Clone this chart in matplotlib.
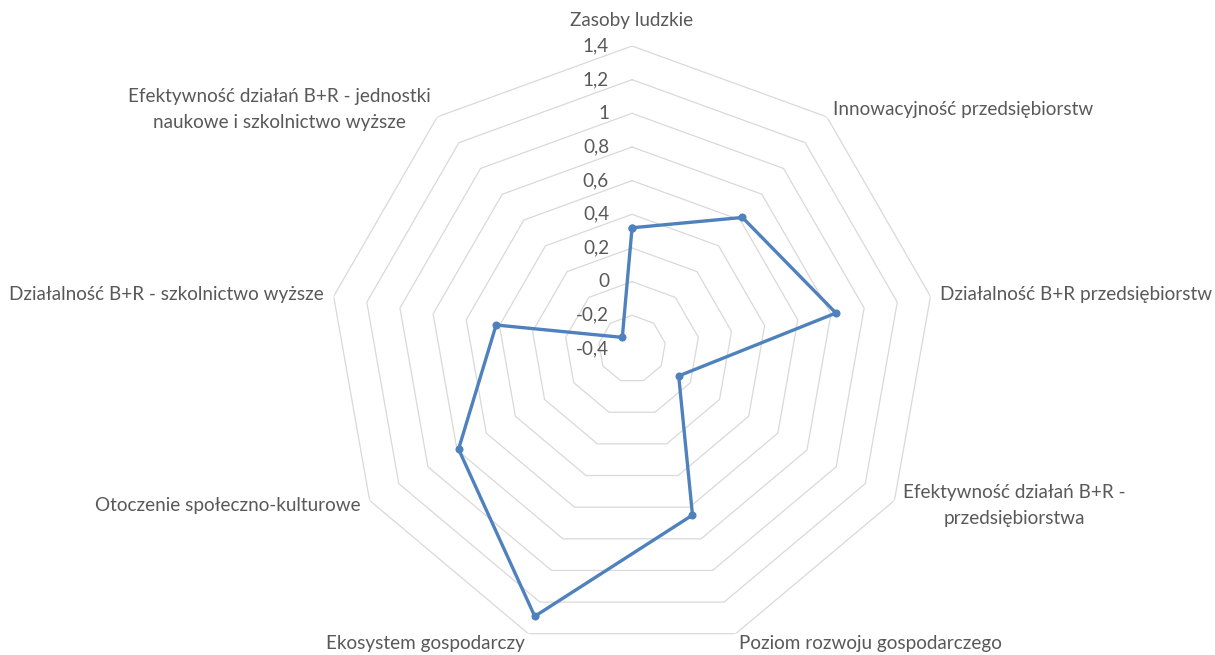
import numpy as np
import matplotlib
matplotlib.use("Agg")
import matplotlib.pyplot as plt
from matplotlib.transforms import offset_copy

# ---- data ----
categories = [
    "Zasoby ludzkie",
    "Innowacyjność przedsiębiorstw",
    "Działalność B+R przedsiębiorstw",
    "Efektywność działań B+R -\nprzedsiębiorstwa",
    "Poziom rozwoju gospodarczego",
    "Ekosystem gospodarczy",
    "Otoczenie społeczno-kulturowe",
    "Działalność B+R - szkolnictwo wyższe",
    "Efektywność działań B+R - jednostki\nnaukowe i szkolnictwo wyższe",
]
values = [0.32, 0.62, 0.83, -0.08, 0.65, 1.29, 0.79, 0.42, -0.31]
tick_values = [-0.4, -0.2, 0, 0.2, 0.4, 0.6, 0.8, 1.0, 1.2, 1.4]
tick_labels = ["-0,4", "-0,2", "0", "0,2", "0,4", "0,6", "0,8", "1", "1,2", "1,4"]

plt.rcParams['font.family'] = ['Lato', 'DejaVu Sans']
text_color = "#595959"
grid_color = "#d9d9d9"
line_color = "#4f81bd"
fs = 13.6

fig = plt.figure(figsize=(12.15, 6.55), dpi=100)
ax = fig.add_axes([0.2708, 0.0046, 0.4988, 0.9252], projection='polar')
ax.set_theta_offset(np.pi / 2)
ax.set_theta_direction(-1)
ax.set_ylim(tick_values[0], tick_values[-1])
ax.grid(False)
ax.set_xticks([])
ax.set_yticks([])
ax.spines['polar'].set_visible(False)
ax.patch.set_visible(False)

n = len(categories)
theta = np.arange(n) * 2 * np.pi / n
theta_closed = np.append(theta, theta[0])

# polygon grid rings
for lvl in tick_values[1:]:
    ax.plot(theta_closed, [lvl] * (n + 1), color=grid_color, lw=0.9, zorder=1)

# data series
vals_closed = values + values[:1]
ax.plot(theta_closed, vals_closed, color=line_color, lw=2.4, marker='o',
        markersize=4.8, zorder=3, solid_joinstyle='round')

# value tick labels
tr = offset_copy(ax.transData, fig=fig, x=-23, y=0, units='dots')
for v, lab in zip(tick_values, tick_labels):
    ax.text(0, v, lab, transform=tr, ha='right', va='center',
            fontsize=fs, color=text_color)

# category labels
for th, lab in zip(theta, categories):
    s = np.sin(th)
    r_lab = 1.46
    if abs(s) < 1e-6:
        ha, va = 'center', 'bottom'
        r_lab = 1.5
    elif s > 0:
        ha, va = 'left', 'center'
    else:
        ha, va = 'right', 'center'
    ax.text(th, r_lab, lab, ha=ha, va=va, fontsize=fs, color=text_color,
            multialignment='center', linespacing=1.65)

fig.savefig("out.png", dpi=100)
